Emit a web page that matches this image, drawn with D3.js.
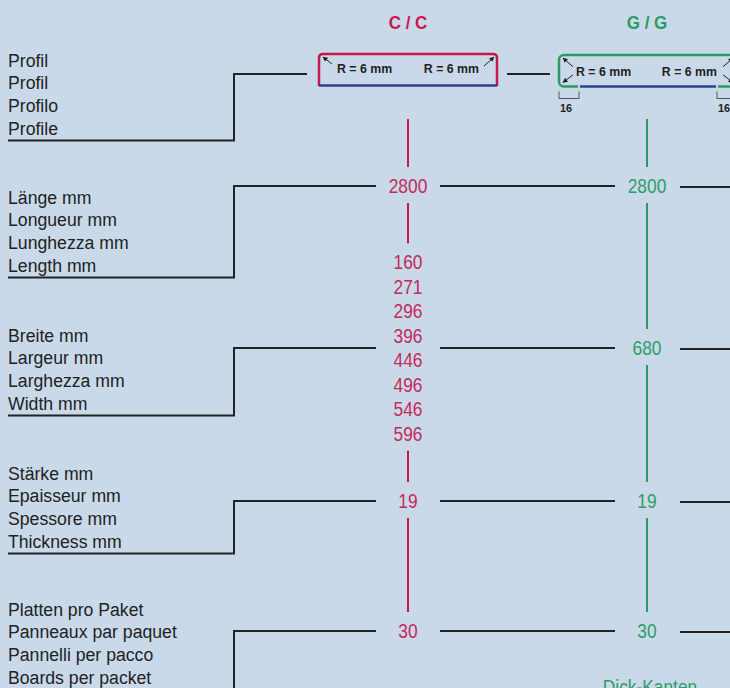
<!DOCTYPE html>
<html><head><meta charset="utf-8">
<script src="https://cdn.jsdelivr.net/npm/d3@7"></script>
<style>html,body{margin:0;padding:0;background:#c9d9e9;} svg{display:block;}</style>
</head><body><svg id="c" width="730" height="688"></svg>
<script>
// ---------- data ----------
const columns = ["C / C", "G / G"];
const rowKeys = ["profile", "length", "width", "thickness", "boards"];
const labelsDE = ["Profil", "Länge mm", "Breite mm", "Stärke mm", "Platten pro Paket"];
const labelsFR = ["Profil", "Longueur mm", "Largeur mm", "Epaisseur mm", "Panneaux par paquet"];
const labelsIT = ["Profilo", "Lunghezza mm", "Larghezza mm", "Spessore mm", "Pannelli per pacco"];
const labelsEN = ["Profile", "Length mm", "Width mm", "Thickness mm", "Boards per packet"];
const lengthValues = [[2800], [2800]];
const widthValues = [[160, 271, 296, 396, 446, 496, 546, 596], [680]];
const thicknessValues = [[19], [19]];
const boardsValues = [[30], [30]];
const radiusText = "R = 6 mm";
const edgeBand = "16";
const footnote = "Dick-Kanten";

// ---------- style / layout ----------
const BG = "#c9d9e9", INK = "#222", BLUE = "#2d3f8f";
const colColor = { "C / C": "#c8174a", "G / G": "#2a9b60" };
const numColor = { "C / C": "#c42a5a", "G / G": "#2e9e66" };

const svg = d3.select("#c");
const x = d3.scalePoint().domain(columns).range([408, 647]);
const rowY = d3.scaleOrdinal().domain(rowKeys).range([74, 186, 348, 501, 631]);
const labelTop = d3.scaleOrdinal().domain(rowKeys).range([60, 197, 335, 473, 609]);
const lineStep = 22.7, valueStep = 24.5;
const boxW = 178, boxTop = 54, boxBot = 86;

const valueSets = { length: lengthValues, width: widthValues, thickness: thicknessValues, boards: boardsValues };

function sText(g, tx, ty, str, size, sx, anchor, fill, weight) {
  return g.append("text")
    .attr("transform", `translate(${tx},${ty}) scale(${sx},1)`)
    .attr("text-anchor", anchor)
    .attr("fill", fill)
    .style("font-family", "'Liberation Sans', Arial, sans-serif")
    .style("font-size", size + "px")
    .style("font-weight", weight || "normal")
    .text(str);
}

// marker
const defs = svg.append("defs");
defs.append("marker").attr("id", "ah").attr("viewBox", "0 0 10 10").attr("refX", 9).attr("refY", 5)
  .attr("markerWidth", 5).attr("markerHeight", 5).attr("markerUnits", "userSpaceOnUse").attr("orient", "auto")
  .append("path").attr("d", "M0,0L10,5L0,10Z").attr("fill", INK);

// ---------- headers ----------
columns.forEach(c => {
  sText(svg, x(c), 28.5, c, 18.5, 0.92, "middle", colColor[c], "bold");
});

// ---------- left labels & connectors ----------
const labelSets = [labelsDE, labelsFR, labelsIT, labelsEN];
rowKeys.forEach((k, i) => {
  labelSets.forEach((set, j) => {
    sText(svg, 8, labelTop(k) + j * lineStep + 6.6, set[i], 19, 0.93, "start", INK);
  });
  const under = labelTop(k) + 3 * lineStep + 12.3;
  const endX = k === "profile" ? x(columns[0]) - boxW / 2 - 12 : x(columns[0]) - 32;
  svg.append("path")
    .attr("d", `M8,${under}H234V${rowY(k)}H${endX}`)
    .attr("fill", "none").attr("stroke", INK).attr("stroke-width", 2);
  if (k === "profile") {
    svg.append("line").attr("x1", x(columns[0]) + boxW / 2 + 10).attr("x2", x(columns[1]) - boxW / 2 - 8)
      .attr("y1", rowY(k)).attr("y2", rowY(k)).attr("stroke", INK).attr("stroke-width", 2);
  } else {
    svg.append("line").attr("x1", x(columns[0]) + 32).attr("x2", x(columns[1]) - 32)
      .attr("y1", rowY(k)).attr("y2", rowY(k)).attr("stroke", INK).attr("stroke-width", 2);
    svg.append("line").attr("x1", x(columns[1]) + 33).attr("x2", 730)
      .attr("y1", rowY(k) + 1).attr("y2", rowY(k) + 1).attr("stroke", INK).attr("stroke-width", 2);
  }
});

// ---------- profile boxes ----------
function arrow(x1, y1, x2, y2) {
  svg.append("line").attr("x1", x1).attr("y1", y1).attr("x2", x2).attr("y2", y2)
    .attr("stroke", INK).attr("stroke-width", 1).attr("marker-end", "url(#ah)");
}
// C / C
(function () {
  const c = columns[0], l = x(c) - boxW / 2, r = x(c) + boxW / 2, rr = 4;
  svg.append("path")
    .attr("d", `M${l},${boxBot}V${boxTop + rr}Q${l},${boxTop} ${l + rr},${boxTop}H${r - rr}Q${r},${boxTop} ${r},${boxTop + rr}V${boxBot}`)
    .attr("fill", "none").attr("stroke", colColor[c]).attr("stroke-width", 2.5);
  svg.append("line").attr("x1", l).attr("x2", r).attr("y1", boxBot - 0.5).attr("y2", boxBot - 0.5)
    .attr("stroke", BLUE).attr("stroke-width", 2.5);
  arrow(l + 13, boxTop + 10, l + 4, boxTop + 3);
  arrow(r - 13, boxTop + 12, r - 3, boxTop + 3);
  const my = (boxTop + boxBot) / 2 + 4.3;
  sText(svg, l + 18, my - 1, radiusText, 13, 0.95, "start", INK, "bold");
  sText(svg, r - 18, my - 1, radiusText, 13, 0.95, "end", INK, "bold");
})();
// G / G
(function () {
  const c = columns[1], l = x(c) - boxW / 2 + 1, r = x(c) + boxW / 2 + 1, t = boxTop + 1, b = boxBot + 0.5;
  svg.append("rect").attr("x", l).attr("y", t).attr("width", r - l).attr("height", b - t)
    .attr("rx", 5).attr("fill", "none").attr("stroke", colColor[c]).attr("stroke-width", 2.5);
  svg.append("line").attr("x1", l + 19).attr("x2", r - 19).attr("y1", b).attr("y2", b)
    .attr("stroke", BG).attr("stroke-width", 3);
  svg.append("line").attr("x1", l + 21).attr("x2", r - 21).attr("y1", b).attr("y2", b)
    .attr("stroke", BLUE).attr("stroke-width", 2.5);
  const my = (t + b) / 2;
  arrow(l + 14, my - 4, l + 4, t + 3);
  arrow(l + 14, my + 4, l + 4, b - 4);
  arrow(r - 14, my - 4, r - 4, t + 3);
  arrow(r - 14, my + 4, r - 4, b - 4);
  sText(svg, l + 17, my + 5, radiusText, 13, 0.95, "start", INK, "bold");
  sText(svg, r - 20, my + 5, radiusText, 13, 0.95, "end", INK, "bold");
  [[l, l + 20], [r - 20, r]].forEach(([a, z]) => {
    svg.append("path").attr("d", `M${a},${b + 5}V${b + 12}H${z}V${b + 5}`)
      .attr("fill", "none").attr("stroke", "#555").attr("stroke-width", 1);
    sText(svg, a + 1, b + 25, edgeBand, 11.5, 0.95, "start", INK, "bold");
  });
})();

// ---------- values & column lines ----------
columns.forEach((c, ci) => {
  const items = [{ top: 100, bot: 102 }];
  ["length", "width", "thickness", "boards"].forEach(k => {
    const vals = valueSets[k][ci];
    const y0 = rowY(k) - (vals.length - 1) / 2 * valueStep;
    vals.forEach((v, vi) => {
      sText(svg, x(c), y0 + vi * valueStep + 7, String(v), 19.5, 0.89, "middle", numColor[c]);
    });
    items.push({ top: y0, bot: y0 + (vals.length - 1) * valueStep });
  });
  for (let i = 1; i < items.length; i++) {
    svg.append("line").attr("x1", x(c)).attr("x2", x(c))
      .attr("y1", items[i - 1].bot + 17).attr("y2", items[i].top - 19)
      .attr("stroke", colColor[c]).attr("stroke-width", 2);
  }
});

// footnote (cut by the lower edge, as in the reference)
sText(svg, x(columns[1]) + 3, 694, footnote, 19.5, 0.89, "middle", numColor[columns[1]]);
</script></body></html>
